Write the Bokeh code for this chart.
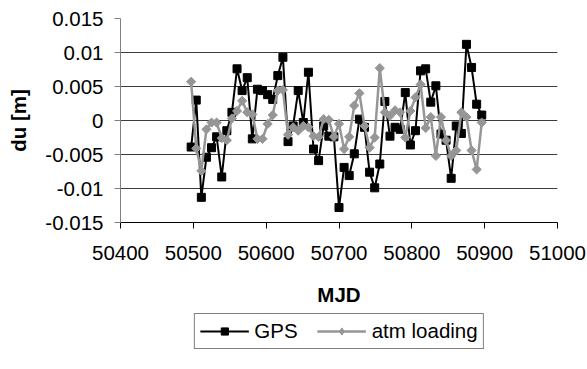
import numpy as np
from bokeh.plotting import figure
from bokeh.layouts import column
from bokeh.models import (FixedTicker, CustomJSTickFormatter, BasicTickFormatter,
                          Legend, LegendItem, Range1d, ColumnDataSource)
from bokeh.embed import file_html
from bokeh.resources import INLINE

# ---- data ----
mjd = [50497, 50504, 50511, 50518, 50525, 50532, 50539, 50546, 50553, 50560,
       50567, 50574, 50581, 50588, 50595, 50602, 50609, 50616, 50623, 50630,
       50637, 50644, 50651, 50658, 50665, 50672, 50679, 50686, 50693, 50700,
       50707, 50714, 50721, 50728, 50735, 50742, 50749, 50756, 50763, 50770,
       50777, 50784, 50791, 50798, 50805, 50812, 50819, 50826, 50833, 50840,
       50847, 50854, 50861, 50868, 50875, 50882, 50889, 50896]

gps_du = [-0.0039, 0.0030, -0.0113, -0.0054, -0.0040, -0.0024, -0.0083, -0.0015, 0.0012, 0.0076,
          0.0044, 0.0063, -0.0027, 0.0046, 0.0044, 0.0038, 0.0031, 0.0066, 0.0093, -0.0031,
          -0.0008, 0.0044, -0.0003, 0.0071, -0.0042, -0.0059, -0.0008, -0.0023, -0.0024, -0.0128,
          -0.0069, -0.0081, -0.0049, 0.0002, -0.0010, -0.0076, -0.0099, -0.0064, 0.0028, -0.0023,
          -0.0010, -0.0013, 0.0041, -0.0036, -0.0015, 0.0073, 0.0076, 0.0027, 0.0051, -0.0020,
          -0.0029, -0.0085, -0.0008, -0.0019, 0.0112, 0.0078, 0.0024, 0.0008]

atm_du = [0.0057, -0.0041, -0.0074, -0.0013, -0.0003, -0.0003, -0.0026, -0.0029, 0.0003, 0.0014,
          0.0029, 0.0012, 0.0009, -0.0027, -0.0027, -0.0005, 0.0008, 0.0044, 0.0045, -0.0021,
          -0.0010, -0.0015, -0.0008, -0.0010, -0.0023, -0.0024, 0.0002, 0.0001, -0.0024, -0.0005,
          -0.0042, -0.0024, 0.0022, 0.0040, -0.0008, -0.0040, -0.0025, 0.0077, 0.0012, 0.0007,
          0.0015, 0.0012, -0.0025, 0.0014, 0.0034, 0.0053, -0.0011, 0.0005, -0.0052, 0.0005,
          -0.0029, -0.0052, -0.0044, 0.0012, 0.0005, -0.0044, -0.0072, -0.0003]

series_names = ["GPS", "atm loading"]
x_ticks = [50400, 50500, 50600, 50700, 50800, 50900, 51000]
y_ticks = [-0.015, -0.01, -0.005, 0.0, 0.005, 0.01, 0.015]
y_tick_labels = ["-0.015", "-0.01", "-0.005", "0", "0.005", "0.01", "0.015"]

FONT = "Liberation Sans"
FS = "20.5px"
GRAY = "#969696"


def draw_series(fig, source, legend_style=False):
    r1 = fig.line("x", "gps", source=source, line_color="black", line_width=2)
    r2 = fig.scatter("x", "gps", source=source, marker="square", size=8,
                     fill_color="black", line_color="black")
    r3 = fig.line("x", "atm", source=source, line_color=GRAY, line_width=2.5)
    if legend_style:
        r4 = fig.scatter("x", "atm", source=source, marker="diamond", size=10,
                         fill_color=GRAY, line_color=GRAY)
    else:
        r4 = fig.scatter("x", "atm", source=source, marker="square", angle=np.pi / 4,
                         size=6.5, fill_color=GRAY, line_color=GRAY)
    return r1, r2, r3, r4


p = figure(width=587, height=312, output_backend="svg", toolbar_location=None,
           x_range=Range1d(50400, 51000), y_range=Range1d(-0.015, 0.015),
           min_border_left=120, min_border_right=30, min_border_top=18,
           min_border_bottom=90)
p.outline_line_color = None
p.background_fill_color = "white"

src = ColumnDataSource(dict(x=mjd, gps=gps_du, atm=atm_du))
draw_series(p, src)

# axes
p.xaxis.ticker = FixedTicker(ticks=x_ticks)
p.xaxis.formatter = BasicTickFormatter(use_scientific=False)
p.yaxis.ticker = FixedTicker(ticks=y_ticks)
p.yaxis.formatter = CustomJSTickFormatter(
    args=dict(vals=y_ticks, labs=y_tick_labels),
    code="""
let best = 0, d = 1e9;
for (let i = 0; i < vals.length; i++) {
  const e = Math.abs(vals[i] - tick);
  if (e < d) { d = e; best = i; }
}
return labs[best];
""")

for ax in (p.xaxis[0], p.yaxis[0]):
    ax.major_tick_out = 6
    ax.major_tick_in = 0
    ax.minor_tick_line_color = None
    ax.major_label_text_font = FONT
    ax.major_label_text_font_size = FS
    ax.major_label_text_color = "black"
    ax.axis_label_text_font = FONT
    ax.axis_label_text_font_size = FS
    ax.axis_label_text_font_style = "bold"
    ax.axis_label_text_color = "black"

p.xaxis.axis_label = "MJD"
p.yaxis.axis_label = "du [m]"
p.xaxis.axis_line_color = "black"
p.xaxis.major_tick_line_color = "black"
p.yaxis.axis_line_color = "#808080"
p.yaxis.major_tick_line_color = "#808080"
p.yaxis.major_label_standoff = 11
p.xaxis.major_label_standoff = 17
p.xaxis.axis_label_standoff = 20
p.yaxis.axis_label_standoff = 12

p.xgrid.visible = False
p.ygrid.ticker = FixedTicker(ticks=y_ticks)
p.ygrid.grid_line_color = "#3c3c3c"
p.ygrid.grid_line_width = 1

# ---- legend strip under the chart (series drawn off-range, only legend shows) ----
lf = figure(width=587, height=57, output_backend="svg", toolbar_location=None,
            x_range=Range1d(0, 1), y_range=Range1d(0, 1),
            x_axis_type=None, y_axis_type=None,
            min_border_left=120, min_border_right=30, min_border_top=0,
            min_border_bottom=0)
lf.outline_line_color = None
lf.xgrid.visible = False
lf.ygrid.visible = False
lg1, lg2, la1, la2 = draw_series(lf, src, legend_style=True)

legend = Legend(items=[LegendItem(label=series_names[0], renderers=[lg1, lg2]),
                       LegendItem(label=series_names[1], renderers=[la1, la2])],
                orientation="horizontal", location="top_center")
legend.border_line_color = "black"
legend.border_line_width = 1
legend.background_fill_color = "white"
legend.background_fill_alpha = 1
legend.padding = 5
legend.spacing = 19
legend.margin = 1
legend.label_standoff = 6
legend.glyph_width = 49
legend.glyph_height = 18
legend.label_text_font = FONT
legend.label_text_font_size = FS
legend.label_text_color = "black"
lf.add_layout(legend, "center")

open("out.html", "w").write(file_html(column(p, lf, spacing=0), INLINE))
